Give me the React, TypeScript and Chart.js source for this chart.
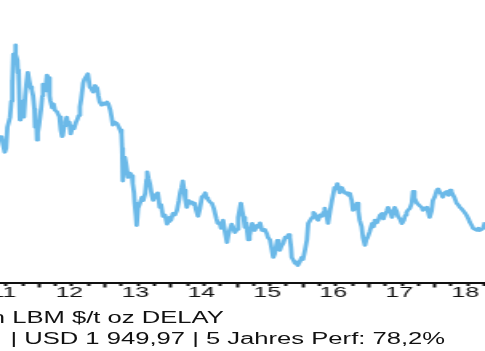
import React, { useEffect, useRef } from "react";
import { Chart, registerables } from "chart.js";

Chart.register(...registerables);

// decimal years (x) and LBMA gold price in USD (y)
const dates: number[] = [
  2011.41, 2011.43, 2011.45, 2011.48, 2011.5, 2011.52, 2011.54, 2011.56, 2011.58, 2011.59,
  2011.6, 2011.61, 2011.63, 2011.64, 2011.65, 2011.67, 2011.68, 2011.69, 2011.71, 2011.72,
  2011.74, 2011.75, 2011.77, 2011.79, 2011.81, 2011.83, 2011.85, 2011.87, 2011.89, 2011.91,
  2011.93, 2011.94, 2011.96, 2011.97, 2011.98, 2012.0, 2012.03, 2012.05, 2012.06, 2012.08,
  2012.09, 2012.11, 2012.12, 2012.14, 2012.16, 2012.17, 2012.19, 2012.2, 2012.22, 2012.24,
  2012.27, 2012.29, 2012.31, 2012.33, 2012.35, 2012.36, 2012.38, 2012.4, 2012.42, 2012.44,
  2012.46, 2012.48, 2012.51, 2012.53, 2012.56, 2012.58, 2012.6, 2012.62, 2012.64, 2012.67,
  2012.69, 2012.71, 2012.74, 2012.76, 2012.77, 2012.8, 2012.82, 2012.85, 2012.88, 2012.9,
  2012.92, 2012.95, 2012.97, 2013.0, 2013.03, 2013.05, 2013.08, 2013.1, 2013.12, 2013.15,
  2013.18, 2013.21, 2013.23, 2013.25, 2013.26, 2013.27, 2013.28, 2013.3, 2013.32, 2013.35,
  2013.38, 2013.41, 2013.42, 2013.44, 2013.45, 2013.47, 2013.48, 2013.5, 2013.53, 2013.56,
  2013.58, 2013.61, 2013.63, 2013.64, 2013.66, 2013.68, 2013.71, 2013.73, 2013.76, 2013.79,
  2013.8, 2013.83, 2013.85, 2013.88, 2013.91, 2013.94, 2013.96, 2013.98, 2014.0, 2014.03,
  2014.06, 2014.09, 2014.12, 2014.14, 2014.16, 2014.18, 2014.2, 2014.22, 2014.24, 2014.27,
  2014.29, 2014.32, 2014.34, 2014.36, 2014.38, 2014.41, 2014.44, 2014.47, 2014.5, 2014.52,
  2014.54, 2014.56, 2014.59, 2014.62, 2014.65, 2014.67, 2014.69, 2014.71, 2014.74, 2014.76,
  2014.79, 2014.82, 2014.85, 2014.87, 2014.89, 2014.92, 2014.94, 2014.97, 2015.0, 2015.02,
  2015.06, 2015.08, 2015.1, 2015.12, 2015.14, 2015.17, 2015.19, 2015.21, 2015.23, 2015.25,
  2015.27, 2015.3, 2015.32, 2015.35, 2015.38, 2015.4, 2015.42, 2015.45, 2015.47, 2015.5,
  2015.53, 2015.55, 2015.57, 2015.59, 2015.61, 2015.63, 2015.65, 2015.67, 2015.7, 2015.73,
  2015.76, 2015.78, 2015.8, 2015.82, 2015.83, 2015.86, 2015.88, 2015.9, 2015.92, 2015.95,
  2015.98, 2016.0, 2016.03, 2016.06, 2016.08, 2016.11, 2016.14, 2016.16, 2016.18, 2016.21,
  2016.23, 2016.26, 2016.29, 2016.31, 2016.33, 2016.36, 2016.38, 2016.41, 2016.44, 2016.46,
  2016.48, 2016.5, 2016.52, 2016.54, 2016.56, 2016.59, 2016.61, 2016.64, 2016.67, 2016.69,
  2016.71, 2016.74, 2016.76, 2016.79, 2016.82, 2016.84, 2016.86, 2016.89, 2016.91, 2016.94,
  2016.96, 2016.98, 2017.01, 2017.05, 2017.07, 2017.09, 2017.12, 2017.14, 2017.17, 2017.2,
  2017.22, 2017.24, 2017.27, 2017.29, 2017.32, 2017.35, 2017.37, 2017.39, 2017.42, 2017.44,
  2017.47, 2017.5, 2017.53, 2017.55, 2017.57, 2017.59, 2017.62, 2017.65, 2017.67, 2017.69,
  2017.71, 2017.73, 2017.75, 2017.77, 2017.8, 2017.82, 2017.85, 2017.88, 2017.9, 2017.92,
  2017.95, 2017.97, 2018.0, 2018.03, 2018.05, 2018.08, 2018.1, 2018.12, 2018.15, 2018.18,
  2018.21, 2018.23, 2018.25, 2018.27, 2018.3, 2018.33, 2018.36, 2018.38, 2018.4, 2018.42,
  2018.45, 2018.48, 2018.51, 2018.53, 2018.56, 2018.58, 2018.61, 2018.64, 2018.66, 2018.68,
  2018.71, 2018.73, 2018.76,
];

const goldPrices: number[] = [
  1531, 1545, 1520, 1485, 1500, 1581, 1600, 1619, 1680, 1761,
  1740, 1860, 1840, 1895, 1860, 1838, 1788, 1800, 1608, 1660,
  1625, 1680, 1619, 1700, 1750, 1790, 1760, 1735, 1723, 1700,
  1650, 1581, 1600, 1531, 1560, 1590, 1650, 1700, 1745, 1730,
  1720, 1755, 1780, 1770, 1700, 1684, 1665, 1655, 1670, 1646,
  1640, 1630, 1620, 1570, 1545, 1550, 1585, 1600, 1619, 1590,
  1600, 1555, 1585, 1575, 1600, 1610, 1625, 1658, 1690, 1750,
  1765, 1772, 1785, 1750, 1734, 1725, 1715, 1740, 1730, 1700,
  1677, 1665, 1673, 1668, 1677, 1670, 1646, 1620, 1589, 1600,
  1595, 1581, 1570, 1555, 1500, 1375, 1420, 1466, 1440, 1389,
  1405, 1395, 1366, 1330, 1290, 1240, 1205, 1270, 1290, 1313,
  1300, 1328, 1380, 1410, 1385, 1366, 1320, 1301, 1320, 1328,
  1330, 1274, 1285, 1240, 1245, 1210, 1220, 1236, 1225, 1251,
  1245, 1263, 1300, 1330, 1350, 1375, 1340, 1300, 1274, 1300,
  1290, 1295, 1285, 1290, 1265, 1240, 1270, 1315, 1320, 1330,
  1310, 1305, 1295, 1290, 1270, 1250, 1230, 1213, 1215, 1194,
  1225, 1180, 1140, 1170, 1186, 1210, 1200, 1178, 1190, 1236,
  1290, 1260, 1236, 1198, 1215, 1150, 1165, 1190, 1213, 1195,
  1186, 1205, 1198, 1215, 1186, 1185, 1190, 1175, 1159, 1150,
  1110, 1083, 1095, 1120, 1148, 1120, 1110, 1125, 1136, 1160,
  1159, 1170, 1160, 1120, 1083, 1070, 1060, 1065, 1052, 1065,
  1083, 1075, 1110, 1150, 1213, 1225, 1236, 1255, 1250, 1230,
  1225, 1245, 1240, 1255, 1271, 1240, 1213, 1260, 1301, 1325,
  1351, 1345, 1365, 1350, 1330, 1350, 1340, 1328, 1330, 1320,
  1328, 1300, 1263, 1270, 1290, 1260, 1225, 1200, 1159, 1129,
  1150, 1159, 1180, 1213, 1200, 1225, 1215, 1225, 1245, 1251,
  1230, 1245, 1260, 1274, 1260, 1236, 1250, 1274, 1260, 1240,
  1230, 1212, 1225, 1244, 1255, 1263, 1270, 1290, 1335, 1310,
  1300, 1290, 1285, 1280, 1275, 1263, 1270, 1275, 1255, 1236,
  1260, 1301, 1315, 1340, 1345, 1330, 1325, 1313, 1330, 1335,
  1320, 1340, 1335, 1325, 1310, 1290, 1282, 1274, 1270, 1270,
  1255, 1244, 1230, 1217, 1205, 1194, 1190, 1186, 1195, 1186,
  1190, 1194, 1217,
];

const labelYears: number[] = [2011, 2012, 2013, 2014, 2015, 2016, 2017, 2018];
const yearLabels: string[] = ["11", "12", "13", "14", "15", "16", "17", "18"];
const quarterSteps: number[] = [0, 0.25, 0.5, 0.75];

const titleLine1 = "Gold in LBM $/t oz DELAY";
const titleLine2 = "| USD 1 949,97 | 5 Jahres Perf: 78,2%";

const X_MIN = 2011.409;
const X_MAX = 2018.76;
const Y_MIN = 987;
const Y_MAX = 2067;
const LABEL_SHIFT = 0.46;

const W = 303;
const H = 351;
const SX = 485 / W;
const FONT = "'Liberation Sans', Arial, Helvetica, sans-serif";

export default function App() {
  const ref = useRef<HTMLCanvasElement | null>(null);

  useEffect(() => {
    if (!ref.current) return;
    type T = { value: number; kind: string; label: string };
    const ticks: T[] = [];
    ticks.push({ value: X_MIN, kind: "edge", label: "" });
    labelYears.forEach((yr, i) => {
      quarterSteps.forEach((q) => {
        const v = yr + q;
        if (v > X_MIN && v < X_MAX) ticks.push({ value: v, kind: q === 0 ? "year" : "quarter", label: "" });
      });
      const lv = yr + LABEL_SHIFT;
      if (lv > X_MIN && lv < X_MAX) ticks.push({ value: lv, kind: "label", label: yearLabels[i] });
    });
    ticks.push({ value: X_MAX, kind: "edge", label: "" });
    ticks.sort((a, b) => a.value - b.value);

    const chart = new Chart(ref.current, {
      type: "line",
      data: {
        datasets: [
          {
            data: dates.map((d, i) => ({ x: d, y: goldPrices[i] })),
            borderColor: "#6bb9e8",
            borderWidth: 2.8,
            pointRadius: 0,
            tension: 0,
            fill: false,
            borderJoinStyle: "round",
          },
        ],
      },
      options: {
        responsive: false,
        animation: false,
        devicePixelRatio: 1,
        layout: { padding: { left: 0, right: 0, top: 0, bottom: 54 } },
        plugins: { legend: { display: false }, tooltip: { enabled: false }, title: { display: false } },
        scales: {
          x: {
            type: "linear",
            min: X_MIN,
            max: X_MAX,
            afterBuildTicks: (axis: any) => {
              axis.ticks = ticks.map((t) => ({ value: t.value }));
            },
            ticks: {
              autoSkip: false,
              maxRotation: 0,
              minRotation: 0,
              padding: -3,
              color: "#111",
              font: { family: FONT, size: 15.5, lineHeight: 1 },
              callback: (_v: any, idx: number) => ticks[idx]?.label ?? "",
            },
            grid: {
              drawOnChartArea: false,
              drawTicks: true,
              tickLength: 5,
              tickWidth: 2,
              tickColor: (ctx: any) => {
                const t = ticks[ctx.index];
                if (!t || t.kind === "edge" || t.kind === "label") return "rgba(0,0,0,0)";
                return "#111";
              },
              tickBorderDash: (ctx: any) => {
                const t = ticks[ctx.index];
                return t && t.kind === "quarter" ? [2, 20] : [];
              },
            },
            border: { display: true, color: "#111", width: 2 },
          },
          y: { display: false, min: Y_MIN, max: Y_MAX },
        },
      } as any,
    });
    return () => chart.destroy();
  }, []);

  const textStyle: React.CSSProperties = {
    position: "absolute",
    whiteSpace: "nowrap",
    font: `16px ${FONT}`,
    lineHeight: "16px",
    color: "#111",
  };

  return (
    <div style={{ position: "absolute", left: 0, top: 0, width: 485, height: H, overflow: "hidden", background: "#fff" }}>
      <div style={{ position: "absolute", left: 0, top: 0, width: W, height: H, transform: `scaleX(${SX})`, transformOrigin: "0 0" }}>
        <canvas ref={ref} width={W} height={H} style={{ display: "block" }} />
        <div style={{ ...textStyle, left: -47.5, top: 310 }}>{titleLine1}</div>
        <div style={{ ...textStyle, left: 6.5, top: 331 }}>{titleLine2}</div>
      </div>
    </div>
  );
}
